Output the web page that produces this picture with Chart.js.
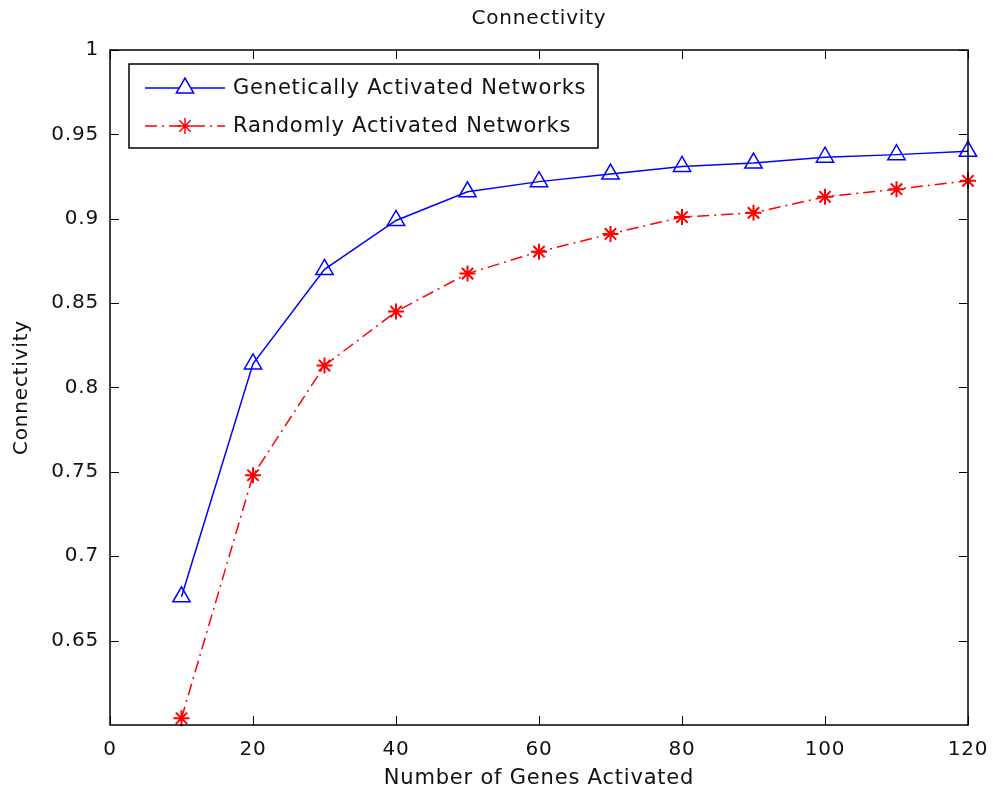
<!DOCTYPE html>
<html>
<head>
<meta charset="utf-8">
<script src="https://cdn.jsdelivr.net/npm/chart.js@4.4.0/dist/chart.umd.min.js"></script>
<style>
  html, body { margin: 0; padding: 0; background: #fff; }
  #wrap { width: 993px; height: 794px; position: relative; }
</style>
</head>
<body>
<div id="wrap"><canvas id="chart" width="993" height="794"></canvas></div>
<script>
const genesActivated = [10, 20, 30, 40, 50, 60, 70, 80, 90, 100, 110, 120];
const geneticValues = [0.676, 0.814, 0.870, 0.899, 0.916, 0.922, 0.9265, 0.931, 0.933, 0.9365, 0.938, 0.940];
const randomValues = [0.604, 0.748, 0.813, 0.845, 0.8675, 0.8805, 0.891, 0.901, 0.9035, 0.913, 0.9175, 0.9225];
const seriesNames = ['Genetically Activated Networks', 'Randomly Activated Networks'];
const xTicks = [0, 20, 40, 60, 80, 100, 120];
const yTicks = [0.65, 0.7, 0.75, 0.8, 0.85, 0.9, 0.95, 1];

const FONT = '"DejaVu Sans", Verdana, sans-serif';

// wider letter spacing, like the old MATLAB screen font
const spacing = {
  id: 'spacing',
  beforeDraw(chart) { chart.ctx.letterSpacing = '0.8px'; }
};

// box, inner ticks, title and legend, MATLAB style
const matlabFrame = {
  id: 'matlabFrame',
  afterDraw(chart) {
    const ctx = chart.ctx;
    const a = chart.chartArea;
    const xs = chart.scales.x, ys = chart.scales.y;
    ctx.save();
    ctx.letterSpacing = '0.8px';
    ctx.strokeStyle = '#000';
    ctx.lineWidth = 1.5;
    ctx.strokeRect(a.left, a.top, a.right - a.left, a.bottom - a.top);
    ctx.lineWidth = 1;
    ctx.beginPath();
    xTicks.forEach(v => {
      const px = Math.round(xs.getPixelForValue(v)) + 0.5;
      ctx.moveTo(px, a.bottom); ctx.lineTo(px, a.bottom - 9);
      ctx.moveTo(px, a.top); ctx.lineTo(px, a.top + 9);
    });
    yTicks.forEach(v => {
      const py = Math.round(ys.getPixelForValue(v)) + 0.5;
      ctx.moveTo(a.left, py); ctx.lineTo(a.left + 9, py);
      ctx.moveTo(a.right, py); ctx.lineTo(a.right - 9, py);
    });
    ctx.stroke();

    // title
    ctx.fillStyle = '#111';
    ctx.font = '20px ' + FONT;
    ctx.textAlign = 'center';
    ctx.textBaseline = 'middle';
    ctx.fillText('Connectivity', (a.left + a.right) / 2, 19);

    // legend
    const lx = 129, ly = 64, lw = 469, lh = 84;
    ctx.fillStyle = '#fff';
    ctx.fillRect(lx, ly, lw, lh);
    ctx.lineWidth = 1.5;
    ctx.strokeStyle = '#000';
    ctx.strokeRect(lx, ly, lw, lh);
    chart.data.datasets.forEach((ds, i) => {
      const cy = ly + 24 + i * 38;
      ctx.strokeStyle = ds.borderColor;
      ctx.lineWidth = 1.5;
      ctx.setLineDash(ds.borderDash || []);
      ctx.beginPath();
      ctx.moveTo(lx + 16, cy); ctx.lineTo(lx + 96, cy);
      ctx.stroke();
      ctx.setLineDash([]);
      Chart.helpers.drawPoint(ctx, {
        pointStyle: ds.pointStyle, radius: ds.pointRadius, borderWidth: 1.5
      }, lx + 56, cy);
      ctx.fillStyle = '#111';
      ctx.font = '21px ' + FONT;
      ctx.textAlign = 'left';
      ctx.fillText(ds.label, lx + 104, cy + 1);
    });
    ctx.restore();
  }
};

new Chart(document.getElementById('chart'), {
  type: 'line',
  data: {
    datasets: [
      {
        label: seriesNames[0],
        data: genesActivated.map((x, i) => ({ x, y: geneticValues[i] })),
        borderColor: '#0000ff',
        backgroundColor: 'rgba(255,255,255,0)',
        borderWidth: 1.5,
        pointStyle: 'triangle',
        pointRadius: 10,
        pointBorderWidth: 1.5,
        pointBorderColor: '#0000ff',
        pointBackgroundColor: 'rgba(255,255,255,0)',
        tension: 0
      },
      {
        label: seriesNames[1],
        data: genesActivated.map((x, i) => ({ x, y: randomValues[i] })),
        borderColor: '#ff0000',
        backgroundColor: '#ff0000',
        borderWidth: 1.5,
        borderDash: [12, 5, 2, 5],
        pointStyle: 'star',
        pointRadius: 8,
        pointBorderWidth: 2,
        pointBorderColor: '#ff0000',
        tension: 0
      }
    ]
  },
  options: {
    responsive: false,
    animation: false,
    clip: false,
    layout: { padding: { top: 50, right: 25, left: 0, bottom: 0 } },
    plugins: {
      legend: { display: false },
      title: { display: false },
      tooltip: { enabled: false }
    },
    scales: {
      x: {
        type: 'linear',
        min: 0, max: 120,
        afterBuildTicks: s => { s.ticks = xTicks.map(v => ({ value: v })); },
        afterFit: s => { s.height = 69; },
        grid: { display: false },
        border: { display: false },
        ticks: { color: '#111', font: { family: FONT, size: 20 }, padding: 5, maxRotation: 0 },
        title: { display: true, text: 'Number of Genes Activated', color: '#111', font: { family: FONT, size: 21 }, padding: { top: 0, bottom: 3 } }
      },
      y: {
        type: 'linear',
        min: 0.6, max: 1,
        afterBuildTicks: s => { s.ticks = yTicks.map(v => ({ value: v })); },
        afterFit: s => { s.width = 110; },
        grid: { display: false },
        border: { display: false },
        ticks: {
          color: '#111', font: { family: FONT, size: 20 }, padding: 3,
          callback: v => String(+v.toFixed(2))
        },
        title: { display: true, text: 'Connectivity', color: '#111', font: { family: FONT, size: 20 }, padding: { top: 10, bottom: 2 } }
      }
    }
  },
  plugins: [spacing, matlabFrame]
});
</script>
</body>
</html>
